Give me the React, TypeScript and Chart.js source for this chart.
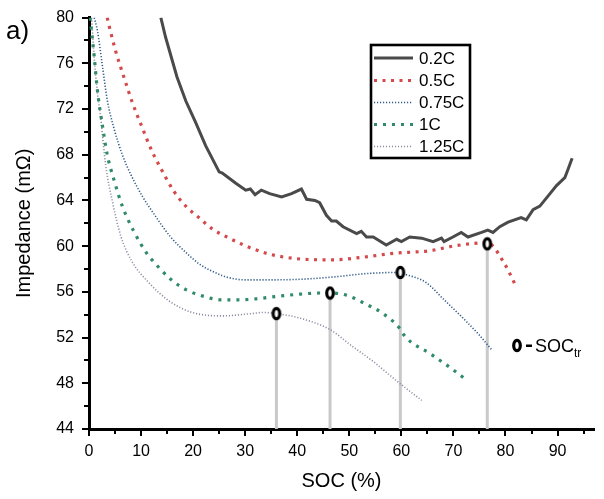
import React, { useEffect, useRef } from "react";
import { Chart, registerables } from "chart.js";

Chart.register(...registerables);

const FONT = '"Liberation Sans", Arial, sans-serif';

// ---- ticks ----
const X_TICKS = [0, 10, 20, 30, 40, 50, 60, 70, 80, 90];
const X_MINOR = [5, 15, 25, 35, 45, 55, 65, 75, 85, 95];
const Y_TICKS = [44, 48, 52, 56, 60, 64, 68, 72, 76, 80];
const Y_MINOR = [46, 50, 54, 58, 62, 66, 70, 74, 78];

// ---- series ----
const SERIES_LABELS = ["0.2C", "0.5C", "0.75C", "1C", "1.25C"];

const C02: number[][] = [
  [13.8, 80], [14.7, 78.3], [16.9, 74.8], [18.6, 72.7], [20.5, 70.8], [22.4, 68.8],
  [25, 66.5], [25.6, 66.4], [28.2, 65.5], [30.1, 64.9], [31, 65], [31.9, 64.5],
  [33.1, 64.9], [34.7, 64.6], [37, 64.3], [38.9, 64.6], [40.8, 65], [41.8, 64.1],
  [43.4, 64], [44.3, 63.8], [45.6, 62.7], [46.6, 62.2], [47.5, 62.2], [48.8, 61.7],
  [51.4, 61.1], [52.3, 61.3], [53.3, 60.8], [54.6, 60.8], [57.1, 60.1], [59.1, 60.6],
  [60, 60.4], [61.6, 60.8], [63.9, 60.7], [66.1, 60.4], [67.7, 60.7], [68.2, 60.4],
  [69.9, 60.8], [71.5, 61.2], [72.8, 60.8], [75.4, 61.2], [76.6, 61.4], [77.6, 61.2],
  [78.9, 61.7], [80.5, 62.1], [83, 62.5], [84, 62.3], [85.3, 63.2], [86.6, 63.5],
  [88.2, 64.4], [89.8, 65.3], [91.4, 66], [92, 66.7], [92.8, 67.7],
];

const C05: number[][] = [
  [3.5, 80], [3.8, 79.4], [5.1, 77.1], [6.7, 74.8], [8.3, 72.6], [10.2, 70.4],
  [12.1, 68.3], [13.8, 66.8], [16.3, 64.8], [18.6, 63.5], [21.1, 62.5], [23.7, 61.5],
  [26.5, 60.8], [29.7, 60.1], [31.3, 59.8], [34.7, 59.3], [39.9, 58.9], [46.9, 58.8],
  [52, 59], [59.1, 59.4], [62.9, 59.5], [65.5, 59.6], [69.9, 60], [73.1, 60.2],
  [76.5, 60.3], [77.6, 60.0], [79.5, 58.7], [80.5, 57.9], [82, 56.5],
];

const C075: number[][] = [
  [1.0, 80], [1.6, 78.9], [2.6, 75.7], [3.5, 72.8], [4.8, 70.3], [6.4, 68],
  [8, 66.3], [10.2, 64.4], [12.5, 62.8], [15.5, 60.9], [19.2, 59.2], [21.3, 58.4],
  [23.7, 57.8], [26.4, 57.3], [30, 57.05], [34.1, 57.05], [40.5, 57.1], [46.9, 57.3],
  [53.3, 57.6], [59.1, 57.7], [61, 57.5], [64.8, 56.8], [68, 55.4], [72.5, 53.4],
  [75, 52.2], [77.4, 50.9],
];

const C1: number[][] = [
  [0.2, 80], [1, 76.6], [1.6, 73.7], [2.6, 70.5], [3.5, 68], [4.8, 65.8],
  [6.4, 63.5], [8.6, 61.3], [11.2, 59.3], [12.1, 58.8], [15.7, 57.1], [18.6, 56.2],
  [22.1, 55.6], [25.6, 55.3], [28.8, 55.3], [32.3, 55.4], [36, 55.6], [40.5, 55.8],
  [44.3, 55.9], [46.3, 55.9], [49.5, 55.7], [53.3, 54.9], [56.5, 54.1], [59.7, 52.8],
  [60.7, 52.1], [65.5, 50.6], [69.3, 49.4], [72.5, 48.3],
];

const C125: number[][] = [
  [0.5, 80], [1.0, 76.5], [1.6, 73.5], [2.2, 71.4], [3.2, 67.1], [4.5, 63.9],
  [6.1, 60.9], [8.2, 58.7], [11.5, 56.8], [15.4, 55.2], [19.8, 54.2], [25.6, 53.9],
  [31.3, 54.1], [33.5, 54.2], [36, 54.1], [40.5, 53.7], [46.3, 52.7], [50.1, 51.4],
  [54.6, 49.9], [59.4, 48.1], [63.9, 46.5],
];

const SERIES = [C02, C05, C075, C1, C125];

// ---- SOC transition markers ----
const SOC_TR_X = [36, 46.3, 59.8, 76.5];
const SOC_TR_Y = [54.1, 55.9, 57.7, 60.2];
const Y_MIN = 44;
const Y_MAX = 80;
const X_MIN = 0;
const X_MAX = 97;

// ---- styles ----
const STYLES = [
  { color: "#4a4a4a", width: 3, dash: [] as number[], tension: 0 },
  { color: "#d44a4c", width: 3.2, dash: [3, 5.5], tension: 0.35 },
  { color: "#2f5a8a", width: 1.6, dash: [1.2, 1.8], tension: 0.35 },
  { color: "#2f8b68", width: 3.2, dash: [3, 6], tension: 0.35 },
  { color: "#8a8aa2", width: 1.6, dash: [1.1, 1.9], tension: 0.35 },
];

function makeMarker(): HTMLCanvasElement {
  const c = document.createElement("canvas");
  c.width = 12;
  c.height = 15;
  const g = c.getContext("2d")!;
  g.beginPath();
  g.ellipse(6, 7.5, 3.3, 5.2, 0, 0, Math.PI * 2);
  g.fillStyle = "#fff";
  g.fill();
  g.lineWidth = 3.2;
  g.strokeStyle = "#000";
  g.stroke();
  return c;
}

export default function App() {
  const ref = useRef<HTMLCanvasElement | null>(null);

  useEffect(() => {
    const canvas = ref.current;
    if (!canvas) return;
    const marker = makeMarker();

    const curveSets = SERIES.map((pts, i) => ({
      label: SERIES_LABELS[i],
      data: pts.map(([x, y]) => ({ x, y })),
      showLine: true,
      borderColor: STYLES[i].color,
      backgroundColor: STYLES[i].color,
      borderWidth: STYLES[i].width,
      borderDash: STYLES[i].dash,
      borderCapStyle: "butt" as const,
      tension: STYLES[i].tension,
      cubicInterpolationMode: STYLES[i].tension ? ("monotone" as const) : ("default" as const),
      pointRadius: 0,
      order: 1,
    }));

    const dropSets = SOC_TR_X.map((x, i) => ({
      label: "drop" + i,
      data: [
        { x, y: Y_MIN },
        { x, y: SOC_TR_Y[i] },
      ],
      showLine: true,
      borderColor: "#c9c9c9",
      borderWidth: 3,
      pointRadius: 0,
      order: 2,
    }));

    const markerSet = {
      label: "SOCtr",
      data: SOC_TR_X.map((x, i) => ({ x, y: SOC_TR_Y[i] })),
      showLine: false,
      pointStyle: marker,
      pointRadius: 6,
      order: 0,
    };

    const overlay = {
      id: "overlay",
      afterDraw(chart: any) {
        const ctx: CanvasRenderingContext2D = chart.ctx;
        const xs = chart.scales.x;
        const ys = chart.scales.y;
        ctx.save();
        // minor ticks
        ctx.strokeStyle = "#000";
        ctx.lineWidth = 2;
        X_MINOR.forEach((v) => {
          const px = Math.round(xs.getPixelForValue(v));
          ctx.beginPath();
          ctx.moveTo(px, ys.bottom);
          ctx.lineTo(px, ys.bottom + 5);
          ctx.stroke();
        });
        Y_MINOR.forEach((v) => {
          const py = Math.round(ys.getPixelForValue(v));
          ctx.beginPath();
          ctx.moveTo(xs.left, py);
          ctx.lineTo(xs.left - 5, py);
          ctx.stroke();
        });

        // panel label
        ctx.fillStyle = "#000";
        ctx.font = `26px ${FONT}`;
        ctx.textBaseline = "alphabetic";
        ctx.textAlign = "left";
        ctx.fillText("a)", 6, 39);

        // legend box
        ctx.fillStyle = "#fff";
        ctx.fillRect(371, 45, 99, 113);
        ctx.lineWidth = 2.6;
        ctx.strokeStyle = "#000";
        ctx.setLineDash([]);
        ctx.strokeRect(371, 45, 99, 113);
        const rows = [58, 80.5, 102.5, 124.5, 146.5];
        SERIES_LABELS.forEach((lab, i) => {
          const st = STYLES[i];
          ctx.beginPath();
          ctx.setLineDash(st.dash);
          ctx.lineCap = "butt";
          ctx.strokeStyle = st.color;
          ctx.lineWidth = st.width;
          ctx.moveTo(374, rows[i]);
          ctx.lineTo(413, rows[i]);
          ctx.stroke();
          ctx.setLineDash([]);
          ctx.fillStyle = "#000";
          ctx.font = `17px ${FONT}`;
          ctx.textBaseline = "middle";
          ctx.fillText(lab, 419, rows[i] + 1);
        });

        // SOC_tr annotation
        ctx.drawImage(marker, 511, 338);
        ctx.fillStyle = "#000";
        ctx.fillRect(526, 344.5, 6, 2.5);
        ctx.font = `18px ${FONT}`;
        ctx.textBaseline = "alphabetic";
        ctx.fillText("SOC", 535, 352);
        const w = ctx.measureText("SOC").width;
        ctx.font = `12px ${FONT}`;
        ctx.fillText("tr", 535 + w, 357);
        ctx.restore();
      },
    };

    const chart = new Chart(canvas, {
      type: "scatter",
      data: { datasets: [...curveSets, ...dropSets, markerSet] as any },
      options: {
        animation: false,
        responsive: false,
        maintainAspectRatio: false,
        layout: { padding: { left: 0, right: 10, top: 10, bottom: 0 } },
        plugins: { legend: { display: false }, tooltip: { enabled: false } },
        events: [],
        scales: {
          x: {
            type: "linear",
            min: X_MIN,
            max: X_MAX,
            afterBuildTicks: (s: any) => {
              s.ticks = X_TICKS.map((v) => ({ value: v }));
            },
            afterFit: (s: any) => {
              s.height = 70;
            },
            ticks: {
              color: "#000",
              font: { family: FONT, size: 16 },
              padding: 6,
              maxRotation: 0,
              autoSkip: false,
            },
            grid: {
              drawOnChartArea: false,
              drawTicks: true,
              tickLength: 7,
              color: "#000",
              lineWidth: 2,
            },
            border: { display: true, color: "#000", width: 3 },
            title: {
              display: true,
              text: "SOC (%)",
              color: "#000",
              font: { family: FONT, size: 20 },
              padding: { top: 0, bottom: 6 },
            },
          },
          y: {
            type: "linear",
            min: Y_MIN,
            max: Y_MAX,
            afterBuildTicks: (s: any) => {
              s.ticks = Y_TICKS.map((v) => ({ value: v }));
            },
            afterFit: (s: any) => {
              s.width = 89;
            },
            ticks: {
              color: "#000",
              font: { family: FONT, size: 16 },
              padding: 8,
              autoSkip: false,
            },
            grid: {
              drawOnChartArea: false,
              drawTicks: true,
              tickLength: 7,
              color: "#000",
              lineWidth: 2,
            },
            border: { display: true, color: "#000", width: 3 },
            title: {
              display: true,
              text: "Impedance (mΩ)",
              color: "#000",
              font: { family: FONT, size: 20 },
              padding: { top: 12, bottom: 0 },
            },
          },
        },
      },
      plugins: [overlay],
    });

    return () => chart.destroy();
  }, []);

  return (
    <div style={{ position: "fixed", left: 0, top: 0, width: 604, height: 499, background: "#fff" }}>
      <canvas ref={ref} width={604} height={499} style={{ width: 604, height: 499, display: "block" }} />
    </div>
  );
}
